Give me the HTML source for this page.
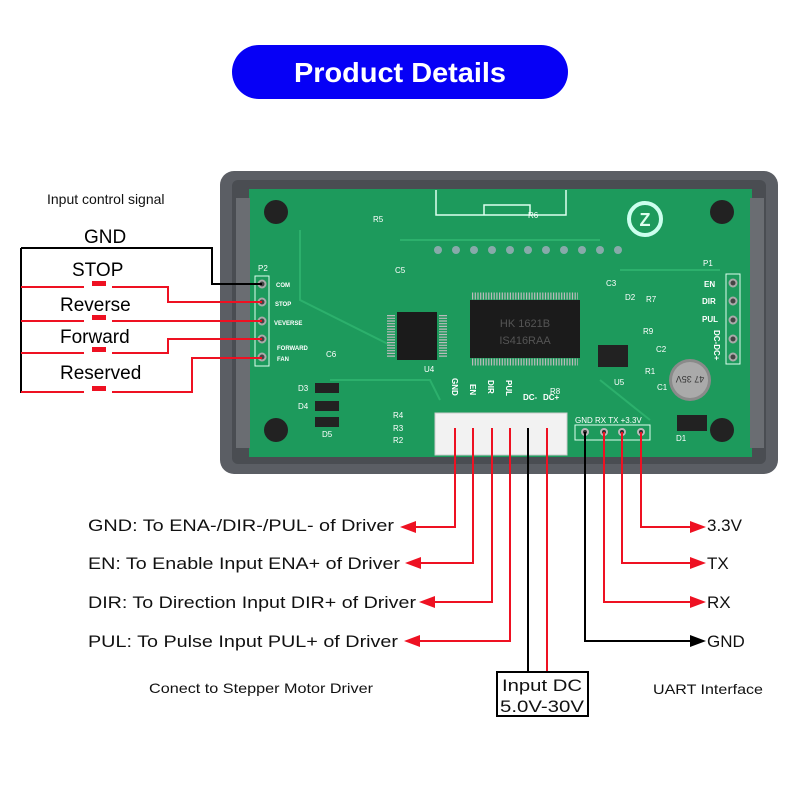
<!DOCTYPE html>
<html><head><meta charset="utf-8"><style>
body{margin:0;background:#fff}
svg{display:block}
text{font-family:"Liberation Sans",sans-serif}
</style></head><body>
<svg width="800" height="800" viewBox="0 0 800 800" xmlns="http://www.w3.org/2000/svg">
<rect width="800" height="800" fill="#fff"/>
<!-- banner -->
<rect x="232" y="45" width="336" height="54" rx="27" fill="#0600f6"/>
<text x="400" y="82" font-size="28" font-weight="bold" fill="#fff" text-anchor="middle" textLength="212" lengthAdjust="spacingAndGlyphs">Product Details</text>

<!-- device frame -->
<rect x="220" y="171" width="558" height="303" rx="14" fill="#5b5e64"/>
<rect x="232" y="180" width="534" height="284" rx="6" fill="#4a4d52"/>
<rect x="249" y="189" width="503" height="268" fill="#1d9a5c"/>
<rect x="236" y="198" width="14" height="250" fill="#6a6d72"/>
<rect x="750" y="198" width="14" height="250" fill="#6a6d72"/>
<!-- holes -->
<circle cx="276" cy="212" r="12" fill="#222"/>
<circle cx="722" cy="212" r="12" fill="#222"/>
<circle cx="276" cy="430" r="12" fill="#222"/>
<circle cx="722" cy="430" r="12" fill="#222"/>
<!-- silkscreen box top -->
<path d="M436 190 V215 H566 V190 M484 215 V205 H530 V215" fill="none" stroke="#dfe" stroke-width="1.5"/>
<!-- logo -->
<circle cx="645" cy="219" r="16" fill="none" stroke="#cfe" stroke-width="4"/>
<text x="645" y="226" font-size="18" font-weight="bold" fill="#dfe" text-anchor="middle">Z</text>
<!-- pin row top -->
<g fill="#8aa">
<circle cx="438" cy="250" r="4"/><circle cx="456" cy="250" r="4"/><circle cx="474" cy="250" r="4"/><circle cx="492" cy="250" r="4"/><circle cx="510" cy="250" r="4"/><circle cx="528" cy="250" r="4"/><circle cx="546" cy="250" r="4"/><circle cx="564" cy="250" r="4"/><circle cx="582" cy="250" r="4"/><circle cx="600" cy="250" r="4"/><circle cx="618" cy="250" r="4"/>
</g>
<!-- traces hint -->
<g stroke="#2cb06c" stroke-width="2" fill="none">
<path d="M300 230 L300 300 L390 345"/><path d="M400 240 H600"/><path d="M620 270 H720"/><path d="M330 380 L430 380 L440 400"/><path d="M600 380 L650 420"/>
</g>
<!-- main IC -->
<rect x="470" y="300" width="110" height="58" fill="#1b1b1b"/>
<g stroke="#bbb" stroke-width="1">
<path d="M472 296 H578 M472 362 H578" stroke-dasharray="1.2 1.5" stroke-width="7"/>
</g>
<text x="525" y="327" font-size="11" fill="#555" text-anchor="middle">HK 1621B</text>
<text x="525" y="344" font-size="11" fill="#555" text-anchor="middle">IS416RAA</text>
<!-- U4 -->
<rect x="397" y="312" width="40" height="48" fill="#1b1b1b"/>
<path d="M391 315 V358 M443 315 V358" stroke="#bbb" stroke-width="8" stroke-dasharray="1.2 1.5"/>
<text x="424" y="372" font-size="8" fill="#fff">U4</text>
<!-- U5 / cap -->
<rect x="598" y="345" width="30" height="22" fill="#222"/>
<text x="614" y="385" font-size="8" fill="#fff">U5</text>
<circle cx="690" cy="380" r="21" fill="#8a8a8a"/><circle cx="690" cy="380" r="18" fill="#aaa"/>
<text x="690" y="384" font-size="9" fill="#333" text-anchor="middle" transform="rotate(180 690 380)">47 35V</text>
<rect x="677" y="415" width="30" height="16" fill="#222"/>
<!-- diodes left -->
<rect x="315" y="383" width="24" height="10" fill="#222"/><rect x="315" y="401" width="24" height="10" fill="#222"/><rect x="315" y="417" width="24" height="10" fill="#222"/>
<g font-size="8" fill="#fff"><text x="298" y="391">D3</text><text x="298" y="409">D4</text><text x="322" y="437">D5</text>
<text x="373" y="222">R5</text><text x="528" y="218">R6</text><text x="395" y="273">C5</text><text x="326" y="357">C6</text>
<text x="258" y="271">P2</text><text x="606" y="286">C3</text><text x="625" y="300">D2</text><text x="646" y="302">R7</text>
<text x="643" y="334">R9</text><text x="656" y="352">C2</text><text x="645" y="374">R1</text><text x="657" y="390">C1</text><text x="676" y="441">D1</text>
<text x="703" y="266">P1</text>
<text x="393" y="418">R4</text><text x="393" y="431">R3</text><text x="393" y="443">R2</text>
<text x="550" y="394">R8</text>
</g>
<g font-size="6" fill="#fff" font-weight="bold"><text x="276" y="287">COM</text><text x="275" y="306">STOP</text><text x="274" y="325">VEVERSE</text><text x="277" y="350">FORWARD</text><text x="277" y="361">FAN</text></g>
<!-- P2 header -->
<rect x="255" y="276" width="14" height="90" fill="none" stroke="#dfe" stroke-width="1"/>
<g fill="#444" stroke="#aaa" stroke-width="2"><circle cx="262" cy="284" r="3.5"/><circle cx="262" cy="302" r="3.5"/><circle cx="262" cy="321" r="3.5"/><circle cx="262" cy="339" r="3.5"/><circle cx="262" cy="357" r="3.5"/></g>
<!-- P1 header -->
<rect x="726" y="274" width="14" height="90" fill="none" stroke="#dfe" stroke-width="1"/>
<g fill="#444" stroke="#aaa" stroke-width="2"><circle cx="733" cy="283" r="3.5"/><circle cx="733" cy="301" r="3.5"/><circle cx="733" cy="320" r="3.5"/><circle cx="733" cy="339" r="3.5"/><circle cx="733" cy="357" r="3.5"/></g>
<g font-size="8" fill="#fff" font-weight="bold"><text x="704" y="287">EN</text><text x="702" y="304">DIR</text><text x="702" y="322">PUL</text></g>
<text x="714" y="330" font-size="8" fill="#fff" font-weight="bold" transform="rotate(90 714 330)">DC-DC+</text>
<!-- connector labels -->
<g font-size="8" fill="#fff" font-weight="bold">
<text x="0" y="0" transform="translate(452 378) rotate(90)">GND</text>
<text x="0" y="0" transform="translate(470 384) rotate(90)">EN</text>
<text x="0" y="0" transform="translate(488 380) rotate(90)">DIR</text>
<text x="0" y="0" transform="translate(506 380) rotate(90)">PUL</text>
<text x="523" y="400">DC-</text><text x="543" y="400">DC+</text>
<text x="575" y="423" font-weight="normal">GND RX TX +3.3V</text>
</g>
<!-- white connector -->
<rect x="435" y="413" width="132" height="42" fill="#f2f2f2" stroke="#ccc"/>
<rect x="575" y="425" width="75" height="15" fill="none" stroke="#dfe"/>
<g fill="#333" stroke="#bbb" stroke-width="2"><circle cx="585" cy="432" r="3"/><circle cx="604" cy="432" r="3"/><circle cx="622" cy="432" r="3"/><circle cx="641" cy="432" r="3"/></g>

<!-- left switch diagram -->
<text x="47" y="204" font-size="14" fill="#111">Input control signal</text>
<text x="84" y="243" font-size="19" fill="#000">GND</text>
<text x="72" y="276" font-size="19" fill="#000">STOP</text>
<text x="60" y="311" font-size="19" fill="#000">Reverse</text>
<text x="60" y="343" font-size="19" fill="#000">Forward</text>
<text x="60" y="379" font-size="19" fill="#000">Reserved</text>
<path d="M21 248 V393 M21 248 H212 V284 H262" fill="none" stroke="#000" stroke-width="2"/>
<g fill="none" stroke="#ee1122" stroke-width="2">
<path d="M21 287 H84 M112 287 H168 V302 H262"/>
<path d="M21 321 H84 M112 321 H262"/>
<path d="M21 353 H84 M112 353 H168 V339 H262"/>
<path d="M21 392 H84 M112 392 H192 V358 H262"/>
</g>
<g fill="#ee1122"><rect x="92" y="281" width="14" height="5"/><rect x="92" y="315" width="14" height="5"/><rect x="92" y="347" width="14" height="5"/><rect x="92" y="386" width="14" height="5"/></g>

<!-- bottom wiring -->
<g fill="none" stroke="#ee1122" stroke-width="2">
<path d="M455 428 V527 H412"/>
<path d="M473 428 V563 H417"/>
<path d="M492 428 V602 H431"/>
<path d="M510 428 V641 H416"/>
<path d="M547 428 V672"/>
<path d="M641 432 V527 H694"/>
<path d="M622 432 V563 H694"/>
<path d="M604 432 V602 H694"/>
</g>
<g fill="none" stroke="#000" stroke-width="2">
<path d="M528 428 V672"/>
<path d="M585 432 V641 H694"/>
</g>
<g fill="#ee1122">
<path d="M400 527 L416 521 V533Z"/><path d="M405 563 L421 557 V569Z"/><path d="M419 602 L435 596 V608Z"/><path d="M404 641 L420 635 V647Z"/>
<path d="M706 527 L690 521 V533Z"/><path d="M706 563 L690 557 V569Z"/><path d="M706 602 L690 596 V608Z"/>
</g>
<path d="M706 641 L690 635 V647Z" fill="#000"/>
<g font-size="17" fill="#111">
<text x="88" y="531" textLength="306" lengthAdjust="spacingAndGlyphs">GND: To ENA-/DIR-/PUL- of Driver</text>
<text x="88" y="569" textLength="312" lengthAdjust="spacingAndGlyphs">EN: To Enable Input ENA+ of Driver</text>
<text x="88" y="608" textLength="328" lengthAdjust="spacingAndGlyphs">DIR: To Direction Input DIR+ of Driver</text>
<text x="88" y="647" textLength="310" lengthAdjust="spacingAndGlyphs">PUL: To Pulse Input PUL+ of Driver</text>
<text x="707" y="531">3.3V</text><text x="707" y="569">TX</text><text x="707" y="608">RX</text><text x="707" y="647">GND</text>
</g>
<rect x="497" y="672" width="91" height="44" fill="#fff" stroke="#000" stroke-width="2"/>
<text x="542" y="691" font-size="17" fill="#111" text-anchor="middle" textLength="80" lengthAdjust="spacingAndGlyphs">Input DC</text>
<text x="542" y="712" font-size="17" fill="#111" text-anchor="middle" textLength="84" lengthAdjust="spacingAndGlyphs">5.0V-30V</text>
<text x="149" y="693" font-size="14" fill="#111" textLength="224" lengthAdjust="spacingAndGlyphs">Conect to Stepper Motor Driver</text>
<text x="653" y="694" font-size="14" fill="#111" textLength="110" lengthAdjust="spacingAndGlyphs">UART Interface</text>
</svg>
</body></html>
